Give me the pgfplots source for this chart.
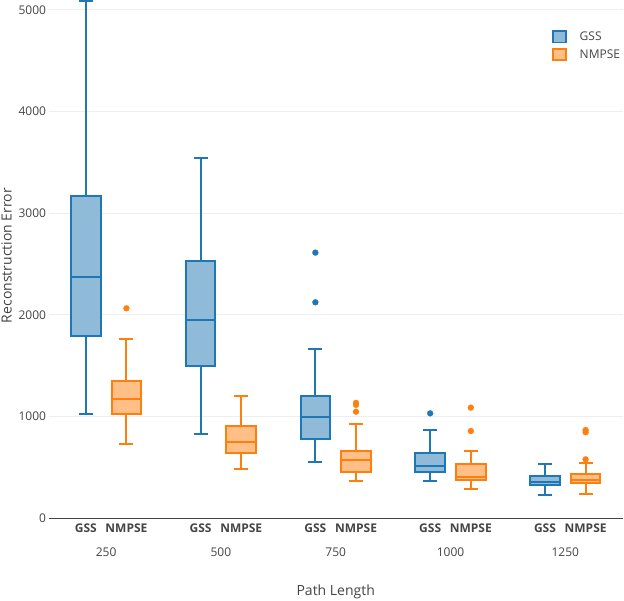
\documentclass[border=0pt]{standalone}
\usepackage{fontspec}
\setmainfont{Open Sans}
\usepackage{pgfplots}
\pgfplotsset{compat=1.18}

\definecolor{gssline}{HTML}{1F77B4}
\definecolor{gssfill}{HTML}{8FBBD9}
\definecolor{nmpline}{HTML}{FF7F0E}
\definecolor{nmpfill}{HTML}{FFBF86}
\definecolor{txt}{HTML}{444444}
\definecolor{grd}{HTML}{EEEEEE}

\pgfplotsset{
  gline/.style={draw=gssline, line width=2pt, mark=none, forget plot},
  gbox/.style={gline, fill=gssfill},
  gout/.style={only marks, mark=*, mark size=3pt, draw=gssline, fill=gssline, line width=0.2pt, forget plot},
  nline/.style={draw=nmpline, line width=2pt, mark=none, forget plot},
  nbox/.style={nline, fill=nmpfill},
  nout/.style={only marks, mark=*, mark size=3pt, draw=nmpline, fill=nmpline, line width=0.2pt, forget plot},
}

% box at #1: lower whisker #2, Q1 #3, median #4, Q3 #5, upper whisker #6, series #7 (g/n)
\newcommand\bp[7]{%
  \pgfmathsetmacro\bxl{#1-0.1285}%
  \pgfmathsetmacro\bxr{#1+0.1285}%
  \pgfmathsetmacro\bcl{#1-0.061}%
  \pgfmathsetmacro\bcr{#1+0.061}%
  \edef\bpcmd{%
    \noexpand\addplot[#7line] coordinates {(#1,#2) (#1,#3)};
    \noexpand\addplot[#7line] coordinates {(#1,#5) (#1,#6)};
    \noexpand\addplot[#7line] coordinates {(\bcl,#2) (\bcr,#2)};
    \noexpand\addplot[#7line] coordinates {(\bcl,#6) (\bcr,#6)};
    \noexpand\addplot[#7box] coordinates {(\bxl,#3) (\bxr,#3) (\bxr,#5) (\bxl,#5)} -- cycle;
    \noexpand\addplot[#7line] coordinates {(\bxl,#4) (\bxr,#4)};
  }\bpcmd}

\begin{document}
\begin{tikzpicture}
\useasboundingbox (0,0) rectangle (624pt,600pt);
\begin{axis}[
  at={(48.7pt,81.7pt)}, anchor=south west,
  scale only axis, width=574pt, height=518.3pt,
  xmin=-0.5, xmax=4.5, ymin=0, ymax=5096,
  clip=false,
  axis line style={draw=none},
  tick style={draw=none},
  xtick={-0.177,0.177,0.823,1.177,1.823,2.177,2.823,3.177,3.823,4.177},
  xticklabels={GSS,NMPSE,GSS,NMPSE,GSS,NMPSE,GSS,NMPSE,GSS,NMPSE},
  xticklabel style={font=\fontsize{12}{14}\selectfont\bfseries, text=txt, anchor=center, yshift=-10pt},
  extra x ticks={0,1,2,3,4},
  extra x tick labels={250,500,750,1000,1250},
  extra x tick style={grid=none, xticklabel style={font=\fontsize{12}{14}\selectfont, yshift=-24.4pt}},
  ytick={0,1000,2000,3000,4000,5000},
  scaled y ticks=false,
  yticklabel style={font=\fontsize{12}{14}\selectfont, text=txt, inner sep=2.5pt,
    /pgf/number format/1000 sep={}, /pgf/number format/assume math mode=true},
  ymajorgrids,
  grid style={draw=grd, line width=1pt},
  xlabel={Path Length},
  xlabel style={at={(axis description cs:0.5,0)}, anchor=center, yshift=-73.4pt,
    font=\fontsize{14}{17}\selectfont, text=txt},
  ylabel={Reconstruction Error},
  ylabel style={at={(axis description cs:-0.0645,0.507)}, anchor=base,
    font=\fontsize{14}{17}\selectfont, text=txt},
  legend style={at={(axis description cs:0.8774,0.9421)}, anchor=north west,
    draw=none, fill=none, inner sep=0pt, outer sep=0pt, row sep=4.3pt,
    nodes={inner sep=1pt}, /tikz/every odd column/.append style={column sep=12pt},
    font=\fontsize{12}{14}\selectfont, text=txt, cells={anchor=west}},
]
\draw[txt, line width=1.5pt] (rel axis cs:0,0) -- (rel axis cs:1,0);

% path length 250
\bp{-0.177}{1026}{1796}{2376}{3169}{5090}{g}
\bp{0.177}{731}{1026}{1173}{1350}{1763}{n}
\addplot[nout] coordinates {(0.177,2065)};

% path length 500
\bp{0.823}{829}{1501}{1950}{2533}{3546}{g}
\bp{1.177}{488}{645}{747}{908}{1206}{n}

% path length 750
\bp{1.823}{557}{783}{999}{1200}{1668}{g}
\addplot[gout] coordinates {(1.823,2612) (1.823,2124)};
\bp{2.177}{370}{452}{570}{665}{927}{n}
\addplot[nout] coordinates {(2.177,1135) (2.177,1115) (2.177,1048)};

% path length 1000
\bp{2.823}{370}{452}{517}{645}{868}{g}
\addplot[gout] coordinates {(2.823,1032)};
\bp{3.177}{285}{377}{409}{531}{662}{n}
\addplot[nout] coordinates {(3.177,1088) (3.177,858)};

% path length 1250
\bp{3.823}{229}{327}{357}{419}{534}{g}
\bp{4.177}{236}{344}{377}{433}{541}{n}
\addplot[nout] coordinates {(4.177,868) (4.177,846) (4.177,580)};

\addlegendimage{legend image code/.code={\draw[draw=gssline, fill=gssfill, line width=1.8pt] (0.9pt,-5.8pt) rectangle (13.5pt,5.8pt);}}
\addlegendentry{GSS}
\addlegendimage{legend image code/.code={\draw[draw=nmpline, fill=nmpfill, line width=1.8pt] (0.9pt,-5.8pt) rectangle (13.5pt,5.8pt);}}
\addlegendentry{NMPSE}
\end{axis}
\end{tikzpicture}
\end{document}
